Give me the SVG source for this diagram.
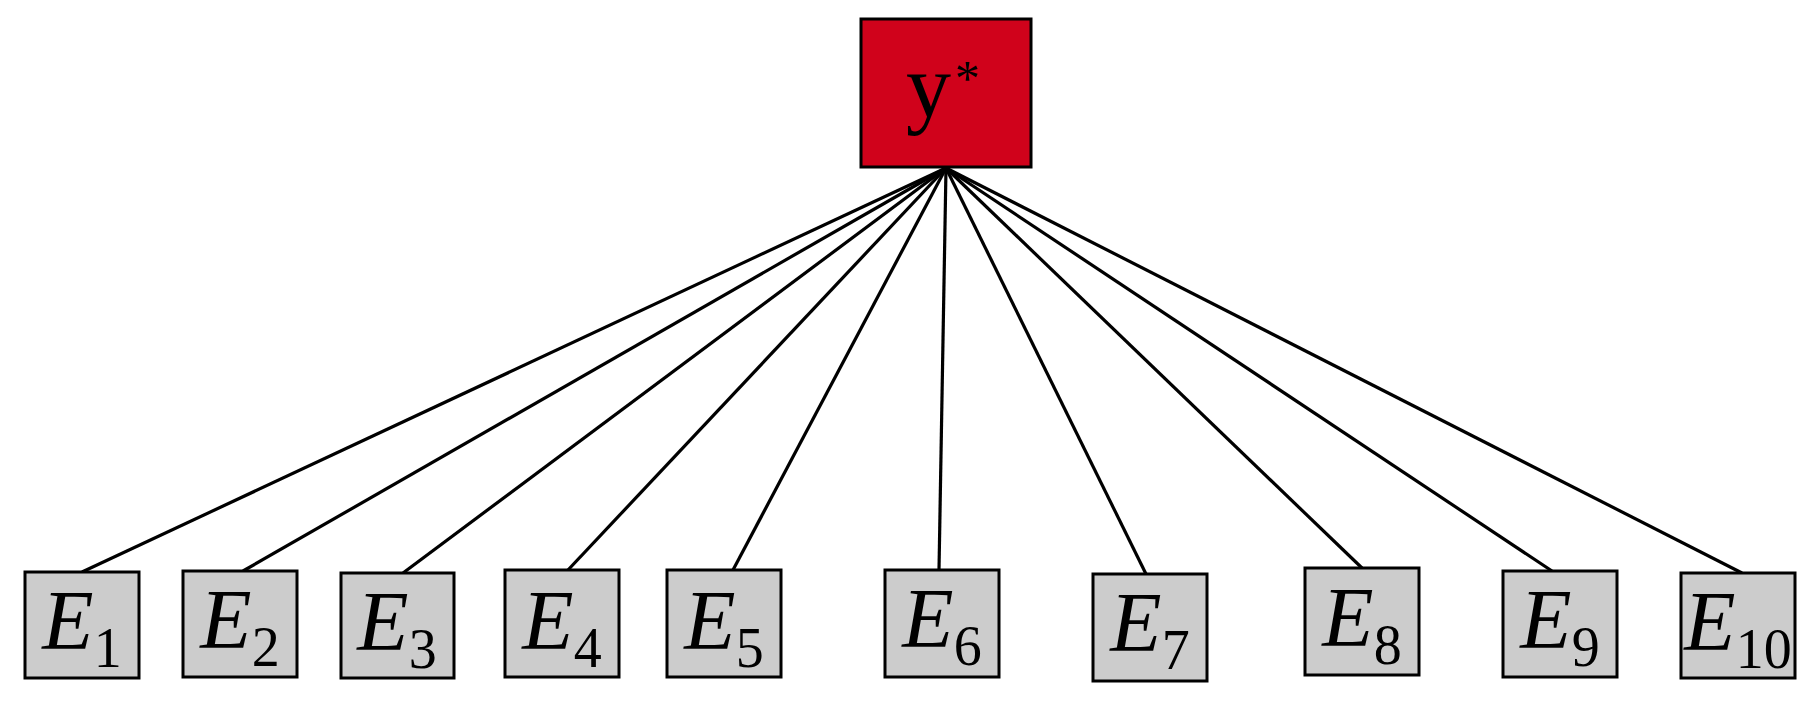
<svg xmlns="http://www.w3.org/2000/svg" width="1820" height="713" viewBox="0 0 1820 713">
<style>
.box{fill:#cccccc;stroke:#000;stroke-width:3}
.top{fill:#d0021b;stroke:#000;stroke-width:3}
.edge{stroke:#000;stroke-width:3.2;fill:none}
.lbl{font-family:"Liberation Serif","Times New Roman",serif;font-size:84px;fill:#000;text-anchor:middle}
.sub{font-size:56px;font-style:normal}
</style>
<rect width="1820" height="713" fill="#fff"/>
<g id="connectors">
<line class="edge" x1="946" y1="168" x2="82" y2="572"/>
<line class="edge" x1="946" y1="168" x2="243" y2="571"/>
<line class="edge" x1="946" y1="168" x2="403" y2="573"/>
<line class="edge" x1="946" y1="168" x2="568" y2="570"/>
<line class="edge" x1="946" y1="168" x2="733" y2="570"/>
<line class="edge" x1="946" y1="168" x2="939" y2="570"/>
<line class="edge" x1="946" y1="168" x2="1146" y2="574"/>
<line class="edge" x1="946" y1="168" x2="1362" y2="568"/>
<line class="edge" x1="946" y1="168" x2="1552" y2="571"/>
<line class="edge" x1="946" y1="168" x2="1742" y2="573"/>
</g>
<g id="ystar">
<rect class="top" x="861" y="19" width="170" height="148"/>
<text x="906" y="117" font-family="'Liberation Serif','Times New Roman',serif" font-size="90" fill="#000">y<tspan font-size="50" dy="-22" dx="4">*</tspan></text>
</g>
<g id="E1"><rect class="box" x="25" y="572" width="114" height="106"/><text class="lbl" x="82" y="649"><tspan font-style="italic">E</tspan><tspan class="sub" dy="18">1</tspan></text></g>
<g id="E2"><rect class="box" x="183" y="571" width="114" height="106"/><text class="lbl" x="240" y="648"><tspan font-style="italic">E</tspan><tspan class="sub" dy="18">2</tspan></text></g>
<g id="E3"><rect class="box" x="341" y="573" width="113" height="105"/><text class="lbl" x="397" y="650"><tspan font-style="italic">E</tspan><tspan class="sub" dy="18">3</tspan></text></g>
<g id="E4"><rect class="box" x="505" y="570" width="114" height="107"/><text class="lbl" x="562" y="649"><tspan font-style="italic">E</tspan><tspan class="sub" dy="18">4</tspan></text></g>
<g id="E5"><rect class="box" x="667" y="570" width="114" height="107"/><text class="lbl" x="724" y="649"><tspan font-style="italic">E</tspan><tspan class="sub" dy="18">5</tspan></text></g>
<g id="E6"><rect class="box" x="885" y="570" width="114" height="107"/><text class="lbl" x="942" y="647"><tspan font-style="italic">E</tspan><tspan class="sub" dy="18">6</tspan></text></g>
<g id="E7"><rect class="box" x="1093" y="574" width="114" height="107"/><text class="lbl" x="1150" y="651"><tspan font-style="italic">E</tspan><tspan class="sub" dy="18">7</tspan></text></g>
<g id="E8"><rect class="box" x="1305" y="568" width="114" height="107"/><text class="lbl" x="1362" y="646"><tspan font-style="italic">E</tspan><tspan class="sub" dy="18">8</tspan></text></g>
<g id="E9"><rect class="box" x="1503" y="571" width="114" height="106"/><text class="lbl" x="1560" y="648"><tspan font-style="italic">E</tspan><tspan class="sub" dy="18">9</tspan></text></g>
<g id="E10"><rect class="box" x="1681" y="573" width="114" height="105"/><text class="lbl" x="1738" y="650"><tspan font-style="italic">E</tspan><tspan class="sub" dy="18">10</tspan></text></g>
</svg>
